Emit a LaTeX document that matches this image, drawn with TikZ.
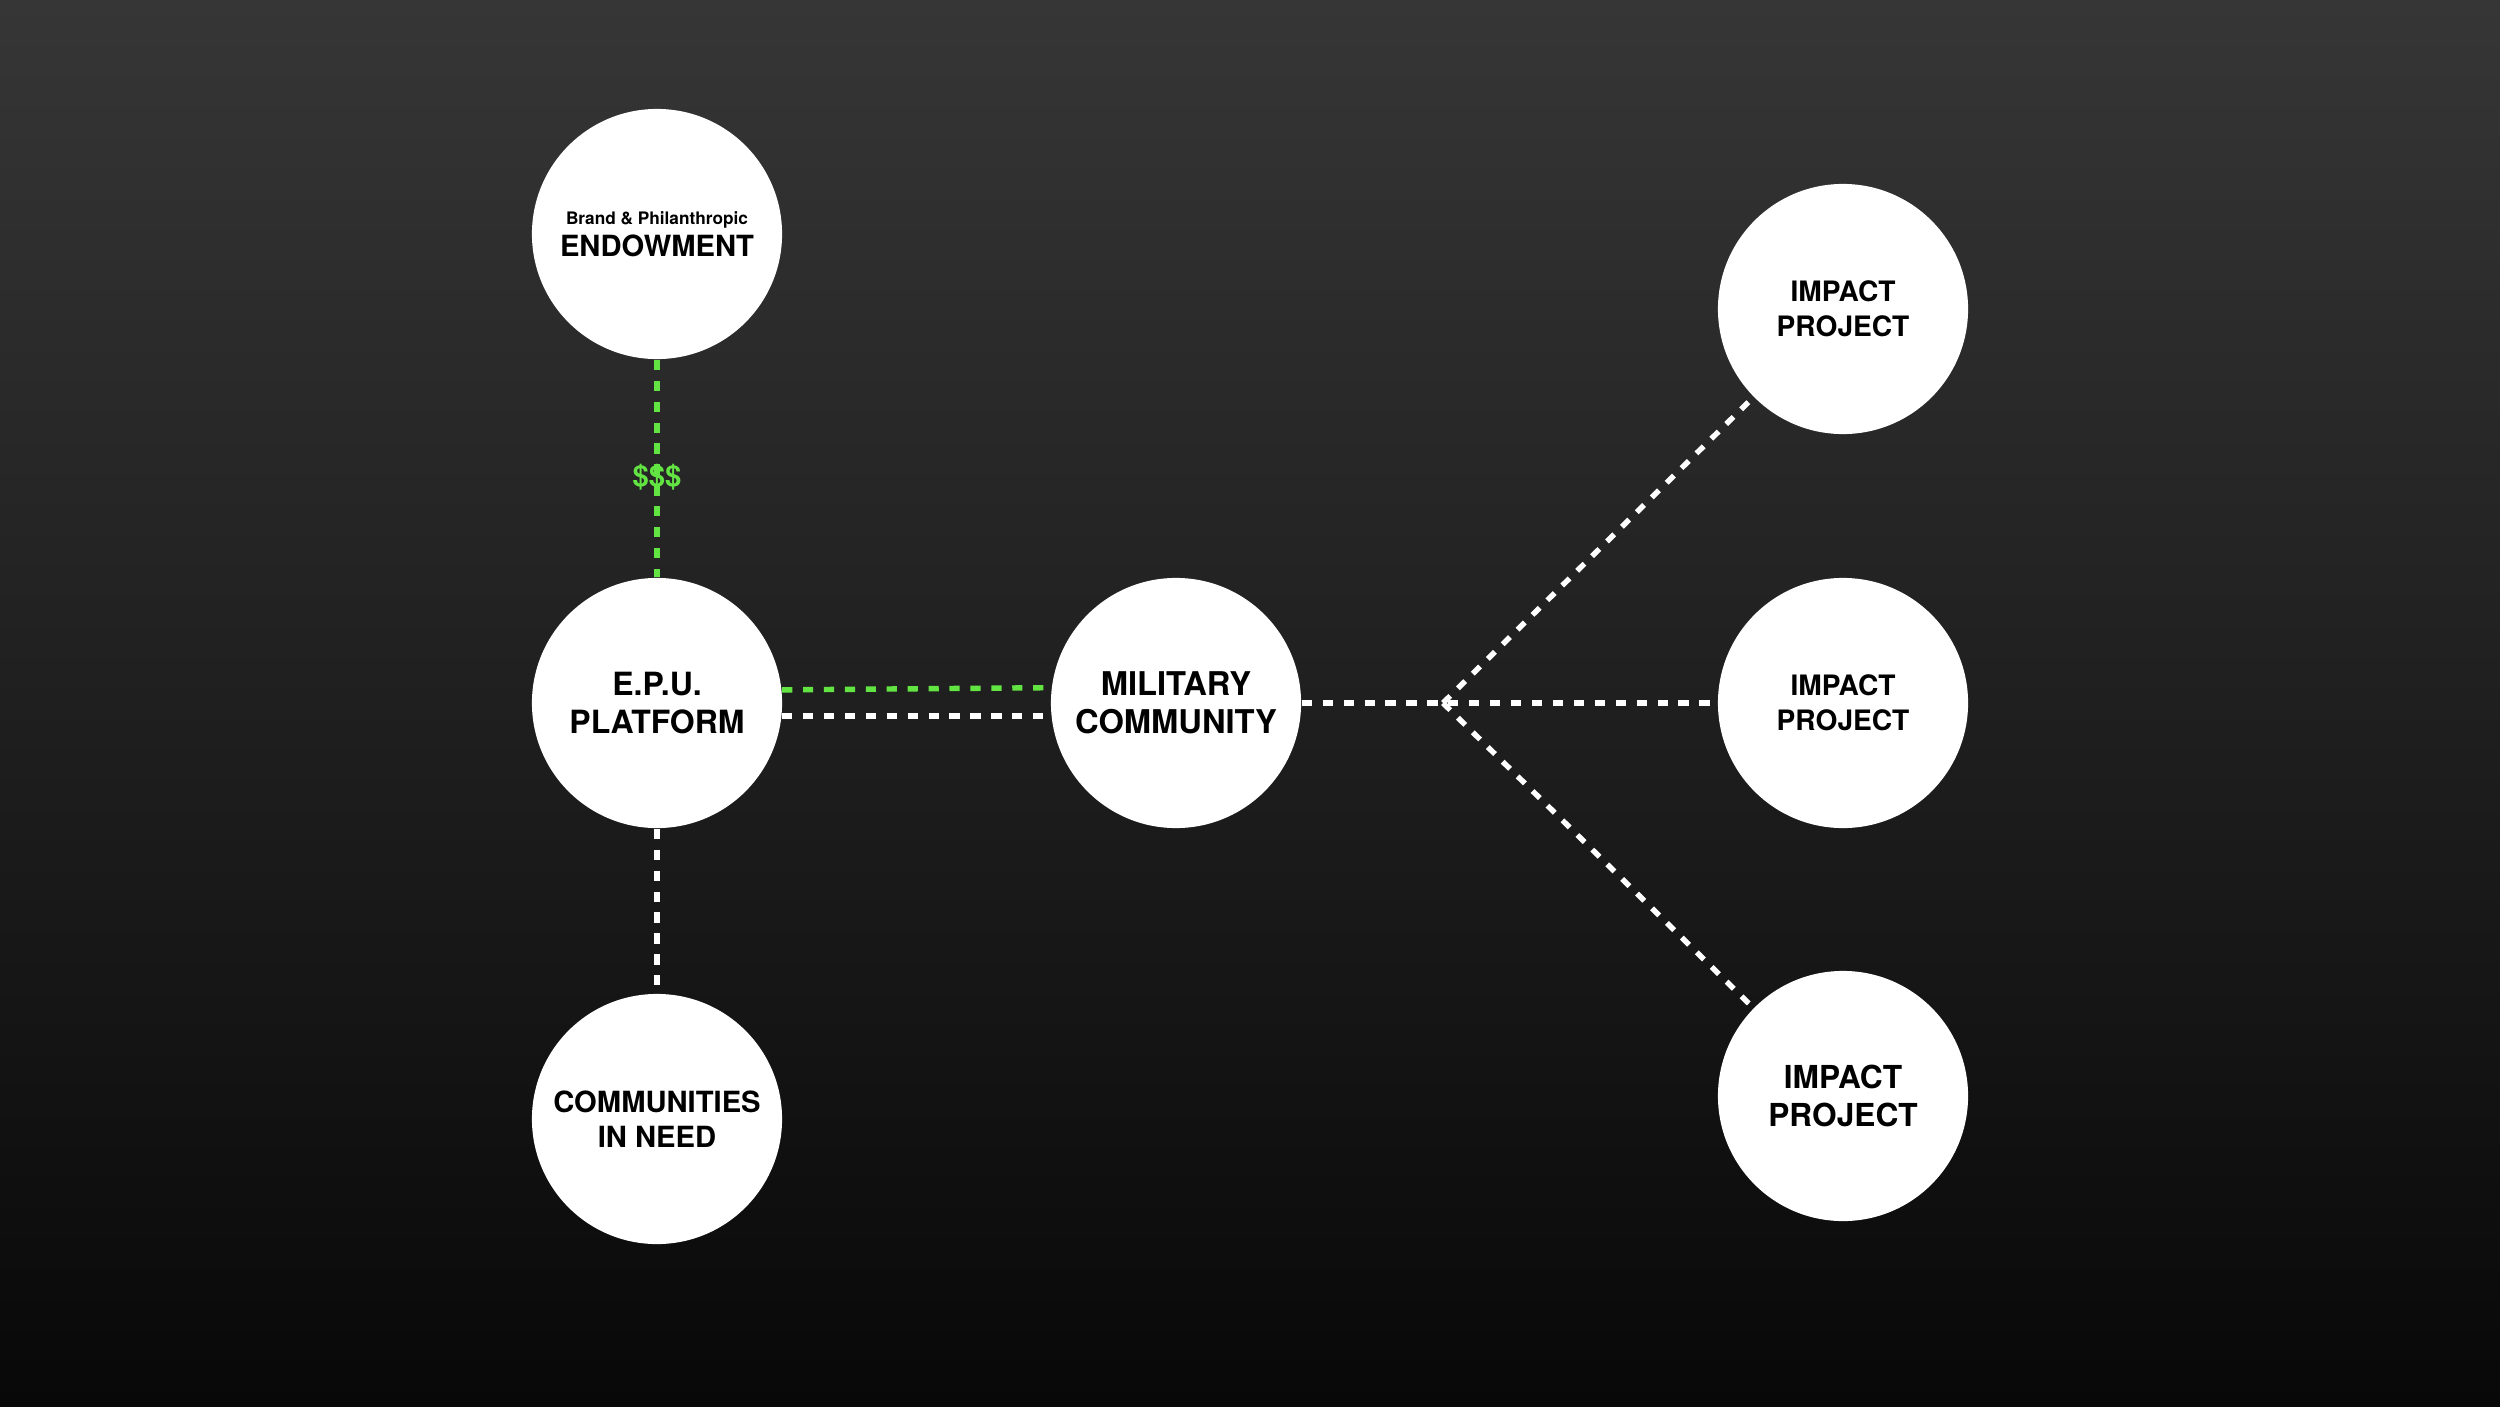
\documentclass[tikz,border=0pt]{standalone}
\usepackage{fontspec}
\setmainfont{TeX Gyre Heros}
\definecolor{bgtop}{RGB}{54,54,54}
\definecolor{bgbot}{RGB}{8,8,8}
\definecolor{moneygreen}{RGB}{98,228,66}
\begin{document}
\begin{tikzpicture}[x=0.01cm,y=-0.01cm,
  bubble/.style={circle, fill=white, minimum size=2.5cm, inner sep=0pt, text=black, align=center},
  link/.style={line width=1.55pt, dash pattern=on 2.9pt off 3.05pt, draw=white},
  greenlink/.style={link, draw=moneygreen}]
\shade[top color=bgtop, bottom color=bgbot] (0,0) rectangle (2500,1406);
\useasboundingbox (0,0) rectangle (2500,1406);
% nodes
\node[bubble, font=\fontsize{8.3}{9.1}\selectfont\bfseries] (endow) at (657,234)
  {{\fontsize{4.9}{9.1}\selectfont Brand \& Philanthropic}\\ENDOWMENT};
\node[bubble, font=\fontsize{9.1}{10.8}\selectfont\bfseries] (epu) at (657,703) {E.P.U.\\PLATFORM};
\node[bubble, font=\fontsize{8.3}{10}\selectfont\bfseries] (comm) at (657,1119) {COMMUNITIES\\IN NEED};
\node[bubble, font=\fontsize{9.3}{10.8}\selectfont\bfseries] (mil) at (1176,703) {MILITARY\\COMMUNITY};
\node[bubble, font=\fontsize{8}{10}\selectfont\bfseries] (imp1) at (1843,309) {IMPACT\\PROJECT};
\node[bubble, font=\fontsize{8}{10}\selectfont\bfseries] (imp2) at (1843,703) {IMPACT\\PROJECT};
\node[bubble, font=\fontsize{9}{11}\selectfont\bfseries] (imp3) at (1843,1096) {IMPACT\\PROJECT};
\coordinate (hub) at (1443,703);
% connectors
\draw[greenlink] (endow) -- (epu);
\node[text=moneygreen, font=\fontsize{8.3}{9}\selectfont\bfseries] (money) at (657,477) {\$\$\$};
\draw[greenlink] (epu.6.4) -- (mil.173.6);
\draw[link] (epu.-6) -- (mil.-174);
\draw[link] (epu) -- (comm);
\draw[link] (mil) -- (imp2);
\draw[link] (hub) -- (imp1);
\draw[link] (hub) -- (imp3);
\end{tikzpicture}
\end{document}
